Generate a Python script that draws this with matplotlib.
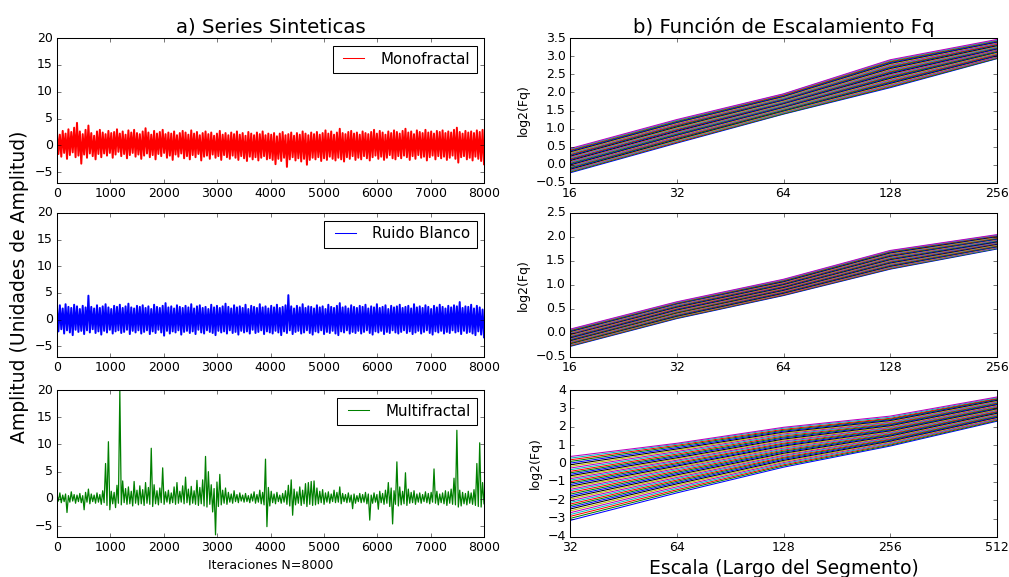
import numpy as np
import matplotlib
matplotlib.use('Agg')
import matplotlib.pyplot as plt
from matplotlib.ticker import NullLocator

plt.style.use('classic')

# Series sinteticas: envolvente superior / inferior (150 tramos de ~53 iteraciones)
mono_hi = [2.4, 2.0, 2.7, 2.2, 3.0, 2.5, 3.3, 4.2, 2.6, 2.1, 2.9, 3.7, 2.3, 1.8, 2.6,
           2.9, 2.4, 2.1, 2.7, 2.3, 2.5, 3.0, 2.2, 2.6, 2.0, 2.8, 2.4, 2.9, 2.3, 2.1,
           2.6, 3.2, 2.4, 2.0, 2.7, 2.2, 2.5, 2.9, 2.1, 2.4, 2.2, 2.6, 1.9, 2.3, 2.7,
           2.4, 2.0, 2.8, 2.2, 2.5, 1.9, 2.3, 2.6, 2.1, 2.4, 1.8, 2.2, 2.7, 2.0, 2.3,
           1.9, 2.4, 2.1, 2.6, 2.0, 2.3, 1.8, 2.5, 2.2, 1.9, 2.4, 2.1, 2.6, 1.9, 2.2,
           2.0, 2.3, 1.7, 2.2, 2.5, 1.9, 2.1, 2.4, 1.8, 2.3, 2.0, 2.6, 2.2, 1.9, 2.4,
           2.1, 2.5, 2.0, 2.3, 2.8, 2.2, 2.6, 2.0, 2.4, 3.1, 2.3, 2.1, 2.5, 2.7, 2.2,
           2.4, 2.0, 2.6, 2.3, 2.1, 2.5, 2.9, 2.2, 2.7, 2.4, 2.0, 2.6, 2.3, 2.8, 2.5,
           2.2, 2.7, 3.1, 2.4, 2.6, 2.1, 2.8, 2.5, 2.3, 2.9, 2.4, 2.6, 2.2, 2.7, 2.5,
           2.8, 2.3, 2.6, 2.4, 2.9, 3.3, 2.5, 2.2, 2.7, 2.4, 2.6, 2.3, 2.8, 2.5, 2.9]
mono_lo = [-1.6, -2.1, -1.4, -2.5, -1.8, -1.3, -2.2, -1.9, -3.4, -1.7, -2.3, -1.5, -2.0, -2.6, -1.6,
           -2.2, -1.5, -1.9, -1.4, -2.3, -1.7, -1.2, -2.0, -1.6, -2.4, -1.8, -1.4, -2.1, -1.7, -2.5,
           -1.9, -1.5, -2.2, -1.8, -2.6, -1.6, -2.0, -1.4, -2.3, -1.9, -2.7, -1.7, -2.1, -1.5, -2.4,
           -2.0, -2.6, -1.8, -2.2, -1.6, -2.8, -2.1, -1.9, -2.5, -1.7, -2.3, -2.0, -2.7, -1.8, -2.2,
           -2.5, -1.9, -2.3, -2.7, -2.0, -2.4, -2.9, -2.1, -2.6, -2.2, -2.8, -2.3, -2.0, -2.6, -2.4,
           -2.7, -3.5, -2.5, -2.9, -2.3, -4.0, -2.6, -2.2, -2.8, -2.4, -3.0, -2.5, -3.6, -2.7, -2.3,
           -2.6, -2.2, -2.9, -2.4, -2.7, -2.1, -2.5, -2.8, -2.3, -2.6, -3.0, -2.2, -2.5, -2.0, -2.7,
           -2.3, -2.6, -2.0, -2.4, -2.8, -2.2, -1.9, -2.5, -2.1, -2.7, -2.3, -1.8, -2.4, -2.6, -2.0,
           -2.4, -1.9, -2.2, -2.7, -2.0, -2.5, -1.8, -2.3, -2.1, -2.8, -2.2, -1.9, -2.6, -2.0, -2.4,
           -2.1, -2.7, -2.3, -1.9, -2.5, -3.2, -2.2, -2.0, -2.6, -2.3, -2.8, -2.1, -2.5, -2.9, -3.5]

ruido_hi = [2.3, 2.7, 2.1, 2.9, 2.4, 2.2, 2.8, 2.5, 2.0, 2.6, 2.3, 4.5, 2.4, 2.1, 2.7,
            2.2, 2.5, 2.9, 2.3, 2.0, 2.6, 2.4, 2.8, 2.2, 2.5, 3.0, 2.3, 2.1, 2.6, 2.4,
            2.7, 2.2, 2.5, 2.0, 2.8, 2.4, 2.2, 2.6, 3.1, 2.3, 2.5, 2.1, 2.7, 2.4, 2.2,
            2.6, 2.3, 2.9, 2.1, 2.5, 2.7, 2.2, 2.4, 2.0, 2.8, 2.3, 2.6, 2.2, 2.5, 3.0,
            2.4, 2.1, 2.7, 2.3, 2.5, 2.2, 2.8, 2.0, 2.6, 2.4, 2.2, 2.9, 2.3, 2.5, 2.1,
            2.6, 2.3, 2.8, 2.2, 2.4, 2.7, 4.6, 2.5, 2.1, 2.6, 2.3, 2.9, 2.2, 2.5, 2.4,
            2.1, 2.7, 2.3, 2.5, 2.0, 2.8, 2.4, 2.2, 2.6, 3.1, 2.3, 2.5, 2.1, 2.7, 2.4,
            2.2, 2.6, 2.4, 2.8, 2.1, 2.5, 2.3, 2.9, 2.2, 2.4, 2.7, 2.0, 2.6, 2.3, 2.5,
            2.8, 2.2, 2.4, 2.6, 2.1, 2.9, 2.3, 2.5, 2.2, 2.7, 2.4, 2.0, 2.6, 2.3, 2.8,
            2.4, 2.1, 2.6, 2.3, 2.7, 2.5, 3.3, 2.2, 2.5, 2.4, 2.8, 2.1, 2.6, 2.3, 1.9]
ruido_lo = [-2.2, -1.8, -2.6, -2.0, -2.4, -2.9, -1.9, -2.3, -2.1, -2.7, -2.0, -2.4, -1.8, -2.5, -2.2,
            -2.8, -2.1, -2.4, -1.9, -2.6, -2.2, -2.0, -2.5, -2.3, -1.9, -2.7, -2.1, -2.4, -2.0, -2.6,
            -2.3, -2.0, -2.7, -2.2, -2.5, -1.9, -2.4, -3.0, -2.1, -2.6, -2.2, -2.4, -2.0, -2.8, -2.3,
            -2.1, -2.5, -2.2, -2.7, -1.9, -2.4, -2.6, -2.0, -2.3, -2.5, -2.9, -2.1, -2.4, -2.2, -2.6,
            -2.0, -2.5, -2.3, -2.8, -2.1, -2.4, -2.2, -2.6, -1.9, -2.5, -2.3, -2.0, -2.7, -2.2, -2.4,
            -2.6, -2.1, -2.4, -2.9, -2.2, -2.5, -2.0, -2.7, -2.3, -2.1, -2.6, -2.4, -2.0, -2.5, -2.8,
            -2.2, -2.4, -2.0, -2.7, -2.3, -2.5, -2.1, -2.6, -2.9, -2.2, -2.4, -2.0, -2.6, -2.3, -2.5,
            -2.1, -2.6, -2.3, -2.0, -2.5, -2.8, -2.2, -2.4, -2.1, -2.7, -2.3, -2.5, -2.0, -2.4, -2.6,
            -2.3, -2.0, -2.5, -2.2, -2.7, -2.4, -2.1, -2.6, -2.3, -2.0, -2.5, -2.8, -2.2, -2.4, -2.1,
            -2.6, -2.3, -2.5, -2.0, -2.4, -2.2, -2.7, -2.1, -2.5, -2.3, -2.6, -2.9, -2.2, -2.8, -3.3]

multi_hi = [0.8, 1.1, 0.7, 0.9, 0.6, 1.3, 0.8, 0.7, 1.0, 0.6, 1.2, 1.8, 0.9, 0.7, 1.1,
            0.8, 1.5, 6.5, 10.5, 1.4, 1.2, 2.5, 19.8, 3.3, 1.9, 2.2, 1.4, 3.2, 1.6, 2.4,
            1.7, 3.0, 2.1, 9.3, 2.6, 1.5, 2.0, 5.7, 1.3, 1.6, 1.1, 2.2, 3.0, 1.4, 2.4,
            4.0, 1.8, 2.3, 1.5, 3.4, 2.1, 3.5, 7.8, 5.0, 2.6, 1.9, 3.1, 4.5, 1.6, 2.0,
            1.2, 0.9, 1.5, 0.8, 1.1, 0.7, 1.0, 0.6, 0.9, 1.3, 0.8, 1.6, 1.2, 7.3, 2.1,
            1.4, 0.9, 1.2, 0.7, 1.0, 1.5, 2.5, 3.5, 1.8, 1.3, 2.2, 1.6, 2.8, 3.0, 3.2,
            3.3, 2.0, 1.4, 1.7, 1.1, 1.3, 0.9, 1.6, 1.2, 2.2, 1.0, 0.8, 1.1, 0.7, 0.9,
            0.6, 1.0, 0.8, 1.2, 0.9, 0.7, 1.1, 0.8, 1.4, 1.0, 1.6, 3.0, 2.0, 1.5, 6.8,
            2.2, 1.4, 4.8, 1.8, 1.2, 1.5, 0.9, 1.1, 0.8, 1.3, 1.0, 1.2, 5.5, 1.4, 0.9,
            1.1, 1.5, 1.3, 1.8, 3.8, 12.6, 1.6, 1.2, 1.0, 1.4, 1.1, 1.7, 6.5, 10.3, 3.0]
multi_lo = [-0.4, -0.7, -0.5, -2.5, -0.6, -0.4, -0.8, -0.5, -0.7, -2.0, -0.6, -0.9, -0.5, -0.8, -0.6,
            -1.0, -0.7, -1.2, -2.0, -0.9, -1.6, -0.8, -1.1, -0.7, -1.0, -0.9, -1.3, -0.8, -1.1, -0.9,
            -1.2, -0.8, -1.0, -1.4, -0.9, -1.1, -0.7, -1.0, -0.6, -0.9, -0.7, -1.0, -0.8, -0.6, -0.9,
            -0.7, -1.1, -0.8, -1.0, -1.2, -0.9, -1.3, -1.5, -1.0, -2.4, -6.6, -1.4, -1.1, -0.8, -1.0,
            -0.6, -0.8, -0.5, -0.7, -0.4, -0.6, -0.5, -0.7, -0.4, -0.8, -0.6, -0.9, -1.1, -5.1, -1.3,
            -0.7, -0.9, -0.5, -0.8, -0.6, -1.0, -1.3, -3.0, -1.1, -0.8, -1.2, -0.9, -1.4, -1.0, -1.2,
            -1.1, -0.9, -0.7, -1.0, -0.6, -0.8, -0.5, -0.7, -0.6, -0.9, -0.5, -0.7, -0.6, -1.8, -0.8,
            -0.5, -0.7, -0.6, -0.9, -3.9, -0.8, -0.6, -1.9, -0.7, -1.0, -0.8, -1.4, -4.6, -1.0, -1.3,
            -1.1, -0.9, -1.2, -0.8, -0.7, -1.0, -0.6, -0.8, -0.5, -0.7, -0.9, -0.6, -0.8, -1.1, -0.7,
            -0.9, -1.2, -0.8, -1.0, -1.1, -1.5, -1.3, -0.9, -1.1, -0.8, -1.0, -1.2, -1.4, -1.5, -0.9]

# Funcion de escalamiento: log2(Fq) para 40 valores de q, una lista por escala
escalas_a = [16, 32, 64, 128, 256]
mono_fq = [
    [-0.22, -0.20, -0.18, -0.17, -0.15, -0.13, -0.12, -0.10, -0.08, -0.06, -0.05, -0.03, -0.01, 0.00, 0.02, 0.04, 0.06, 0.07, 0.09, 0.11,
     0.12, 0.14, 0.16, 0.17, 0.19, 0.21, 0.23, 0.24, 0.26, 0.28, 0.29, 0.31, 0.33, 0.34, 0.36, 0.38, 0.40, 0.41, 0.43, 0.45],
    [0.60, 0.62, 0.63, 0.65, 0.67, 0.68, 0.70, 0.72, 0.73, 0.75, 0.77, 0.78, 0.80, 0.82, 0.83, 0.85, 0.87, 0.88, 0.90, 0.92,
     0.93, 0.95, 0.97, 0.98, 1.00, 1.02, 1.03, 1.05, 1.07, 1.08, 1.10, 1.12, 1.13, 1.15, 1.17, 1.18, 1.20, 1.22, 1.23, 1.25],
    [1.40, 1.41, 1.43, 1.44, 1.46, 1.47, 1.49, 1.50, 1.51, 1.53, 1.54, 1.56, 1.57, 1.59, 1.60, 1.62, 1.63, 1.64, 1.66, 1.67,
     1.69, 1.70, 1.72, 1.73, 1.74, 1.76, 1.77, 1.79, 1.80, 1.82, 1.83, 1.84, 1.86, 1.87, 1.89, 1.90, 1.92, 1.93, 1.95, 1.96],
    [2.13, 2.15, 2.17, 2.19, 2.21, 2.23, 2.25, 2.27, 2.29, 2.31, 2.33, 2.35, 2.37, 2.39, 2.41, 2.43, 2.45, 2.47, 2.49, 2.51,
     2.52, 2.54, 2.56, 2.58, 2.60, 2.62, 2.64, 2.66, 2.68, 2.70, 2.72, 2.74, 2.76, 2.78, 2.80, 2.82, 2.84, 2.86, 2.88, 2.90],
    [2.93, 2.94, 2.96, 2.97, 2.98, 3.00, 3.01, 3.02, 3.04, 3.05, 3.07, 3.08, 3.09, 3.11, 3.12, 3.13, 3.15, 3.16, 3.17, 3.19,
     3.20, 3.21, 3.23, 3.24, 3.25, 3.27, 3.28, 3.29, 3.31, 3.32, 3.33, 3.35, 3.36, 3.38, 3.39, 3.40, 3.42, 3.43, 3.44, 3.46],
]
ruido_fq = [
    [-0.28, -0.27, -0.26, -0.25, -0.24, -0.23, -0.22, -0.21, -0.21, -0.20, -0.19, -0.18, -0.17, -0.16, -0.15, -0.14, -0.13, -0.12, -0.11, -0.10,
     -0.10, -0.09, -0.08, -0.07, -0.06, -0.05, -0.04, -0.03, -0.02, -0.01, -0.01, 0.00, 0.01, 0.02, 0.03, 0.04, 0.05, 0.06, 0.07, 0.08],
    [0.30, 0.31, 0.32, 0.33, 0.34, 0.34, 0.35, 0.36, 0.37, 0.38, 0.39, 0.40, 0.41, 0.42, 0.43, 0.43, 0.44, 0.45, 0.46, 0.47,
     0.48, 0.49, 0.50, 0.51, 0.52, 0.52, 0.53, 0.54, 0.55, 0.56, 0.57, 0.58, 0.59, 0.60, 0.61, 0.61, 0.62, 0.63, 0.64, 0.65],
    [0.78, 0.79, 0.80, 0.81, 0.81, 0.82, 0.83, 0.84, 0.85, 0.86, 0.87, 0.87, 0.88, 0.89, 0.90, 0.91, 0.92, 0.93, 0.93, 0.94,
     0.95, 0.96, 0.97, 0.98, 0.99, 0.99, 1.00, 1.01, 1.02, 1.03, 1.04, 1.05, 1.05, 1.06, 1.07, 1.08, 1.09, 1.10, 1.11, 1.12],
    [1.33, 1.34, 1.35, 1.36, 1.37, 1.38, 1.39, 1.40, 1.41, 1.42, 1.43, 1.44, 1.45, 1.46, 1.47, 1.48, 1.49, 1.50, 1.51, 1.52,
     1.53, 1.54, 1.55, 1.56, 1.57, 1.58, 1.59, 1.60, 1.61, 1.62, 1.63, 1.64, 1.65, 1.66, 1.67, 1.68, 1.69, 1.70, 1.71, 1.72],
    [1.75, 1.76, 1.77, 1.77, 1.78, 1.79, 1.80, 1.80, 1.81, 1.82, 1.83, 1.84, 1.84, 1.85, 1.86, 1.87, 1.87, 1.88, 1.89, 1.90,
     1.90, 1.91, 1.92, 1.93, 1.93, 1.94, 1.95, 1.96, 1.96, 1.97, 1.98, 1.99, 2.00, 2.00, 2.01, 2.02, 2.03, 2.03, 2.04, 2.05],
]
escalas_b = [32, 64, 128, 256, 512]
multi_fq = [
    [-3.10, -2.99, -2.88, -2.78, -2.68, -2.58, -2.48, -2.39, -2.30, -2.21, -2.12, -2.03, -1.94, -1.85, -1.76, -1.67, -1.58, -1.49, -1.41, -1.32,
     -1.24, -1.15, -1.07, -0.99, -0.91, -0.83, -0.75, -0.67, -0.59, -0.51, -0.43, -0.34, -0.25, -0.16, -0.07, 0.02, 0.11, 0.20, 0.29, 0.38],
    [-1.60, -1.51, -1.43, -1.35, -1.27, -1.19, -1.11, -1.04, -0.97, -0.90, -0.83, -0.76, -0.69, -0.62, -0.55, -0.48, -0.41, -0.34, -0.27, -0.21,
     -0.14, -0.08, -0.01, 0.05, 0.12, 0.18, 0.25, 0.31, 0.38, 0.44, 0.51, 0.58, 0.65, 0.72, 0.79, 0.86, 0.93, 0.99, 1.05, 1.10],
    [-0.20, -0.13, -0.07, -0.01, 0.05, 0.11, 0.17, 0.23, 0.29, 0.34, 0.40, 0.45, 0.51, 0.56, 0.62, 0.67, 0.73, 0.78, 0.84, 0.89,
     0.95, 1.00, 1.06, 1.11, 1.17, 1.22, 1.28, 1.33, 1.39, 1.44, 1.50, 1.55, 1.61, 1.66, 1.71, 1.76, 1.81, 1.86, 1.92, 1.97],
    [0.95, 1.00, 1.05, 1.09, 1.14, 1.18, 1.22, 1.26, 1.30, 1.34, 1.38, 1.42, 1.46, 1.50, 1.54, 1.58, 1.62, 1.66, 1.70, 1.74,
     1.78, 1.82, 1.86, 1.90, 1.94, 1.98, 2.02, 2.06, 2.10, 2.14, 2.18, 2.22, 2.26, 2.30, 2.34, 2.38, 2.42, 2.46, 2.52, 2.58],
    [2.30, 2.34, 2.38, 2.41, 2.44, 2.48, 2.51, 2.54, 2.58, 2.61, 2.64, 2.68, 2.71, 2.74, 2.78, 2.81, 2.84, 2.88, 2.91, 2.94,
     2.98, 3.01, 3.04, 3.08, 3.11, 3.14, 3.18, 3.21, 3.24, 3.28, 3.31, 3.34, 3.38, 3.41, 3.44, 3.48, 3.51, 3.54, 3.58, 3.62],
]

W, H, DPI = 1009, 577, 75
fig = plt.figure(figsize=(W / DPI, H / DPI), dpi=DPI, facecolor='white')

def box(x0, y0, x1, y1):
    return [x0 / W, 1 - y1 / H, (x1 - x0) / W, (y1 - y0) / H]

filas = [(38, 183), (213, 357), (390, 537)]
izq = [fig.add_axes(box(57, a, 484, b)) for a, b in filas]
der = [fig.add_axes(box(570, a, 997, b)) for a, b in filas]

# a) series: se recorre la envolvente alternando maximo y minimo de cada tramo
series = [(mono_hi, mono_lo, 'r', 'Monofractal', 1.9),
          (ruido_hi, ruido_lo, 'b', 'Ruido Blanco', 1.9),
          (multi_hi, multi_lo, 'g', 'Multifractal', 1.2)]
for ax, (hi, lo, c, lab, lw) in zip(izq, series):
    y = np.column_stack([hi, lo]).ravel()
    x = np.linspace(0, 8000, len(y))
    ax.plot(x, y, color=c, label=lab, lw=lw)
    ax.set_xlim(0, 8000)
    ax.set_ylim(-7, 20)
    ax.set_yticks([-5, 0, 5, 10, 15, 20])
    leg = ax.legend(loc='upper right')
    for ln in leg.get_lines():
        ln.set_linewidth(1.0)
izq[0].set_title('a) Series Sinteticas', fontsize=19)
izq[2].set_xlabel('Iteraciones N=8000')
fig.text(20 / W, 1 - 287 / H, 'Amplitud (Unidades de Amplitud)', rotation=90,
         ha='center', va='center', fontsize=18)

# b) funcion de escalamiento
datos = [(escalas_a, mono_fq, (-0.5, 3.5), np.arange(-0.5, 3.51, 0.5)),
         (escalas_a, ruido_fq, (-0.5, 2.5), np.arange(-0.5, 2.51, 0.5)),
         (escalas_b, multi_fq, (-4, 4), np.arange(-4, 4.1, 1))]
for ax, (esc, fq, ylim, yt) in zip(der, datos):
    for i in range(len(fq[0])):
        ax.plot(esc, [col[i] for col in fq])
    ax.set_xscale('log', base=2)
    ax.set_xlim(esc[0], esc[-1])
    ax.set_xticks(esc)
    ax.set_xticklabels([str(s) for s in esc])
    ax.xaxis.set_minor_locator(NullLocator())
    ax.set_ylim(*ylim)
    ax.set_yticks(yt)
    ax.set_ylabel('log2(Fq)')
der[0].set_title('b) Función de Escalamiento Fq', fontsize=19)
der[2].set_xlabel('Escala (Largo del Segmento)', fontsize=18)

fig.savefig('out.png', dpi=DPI, facecolor='white')
